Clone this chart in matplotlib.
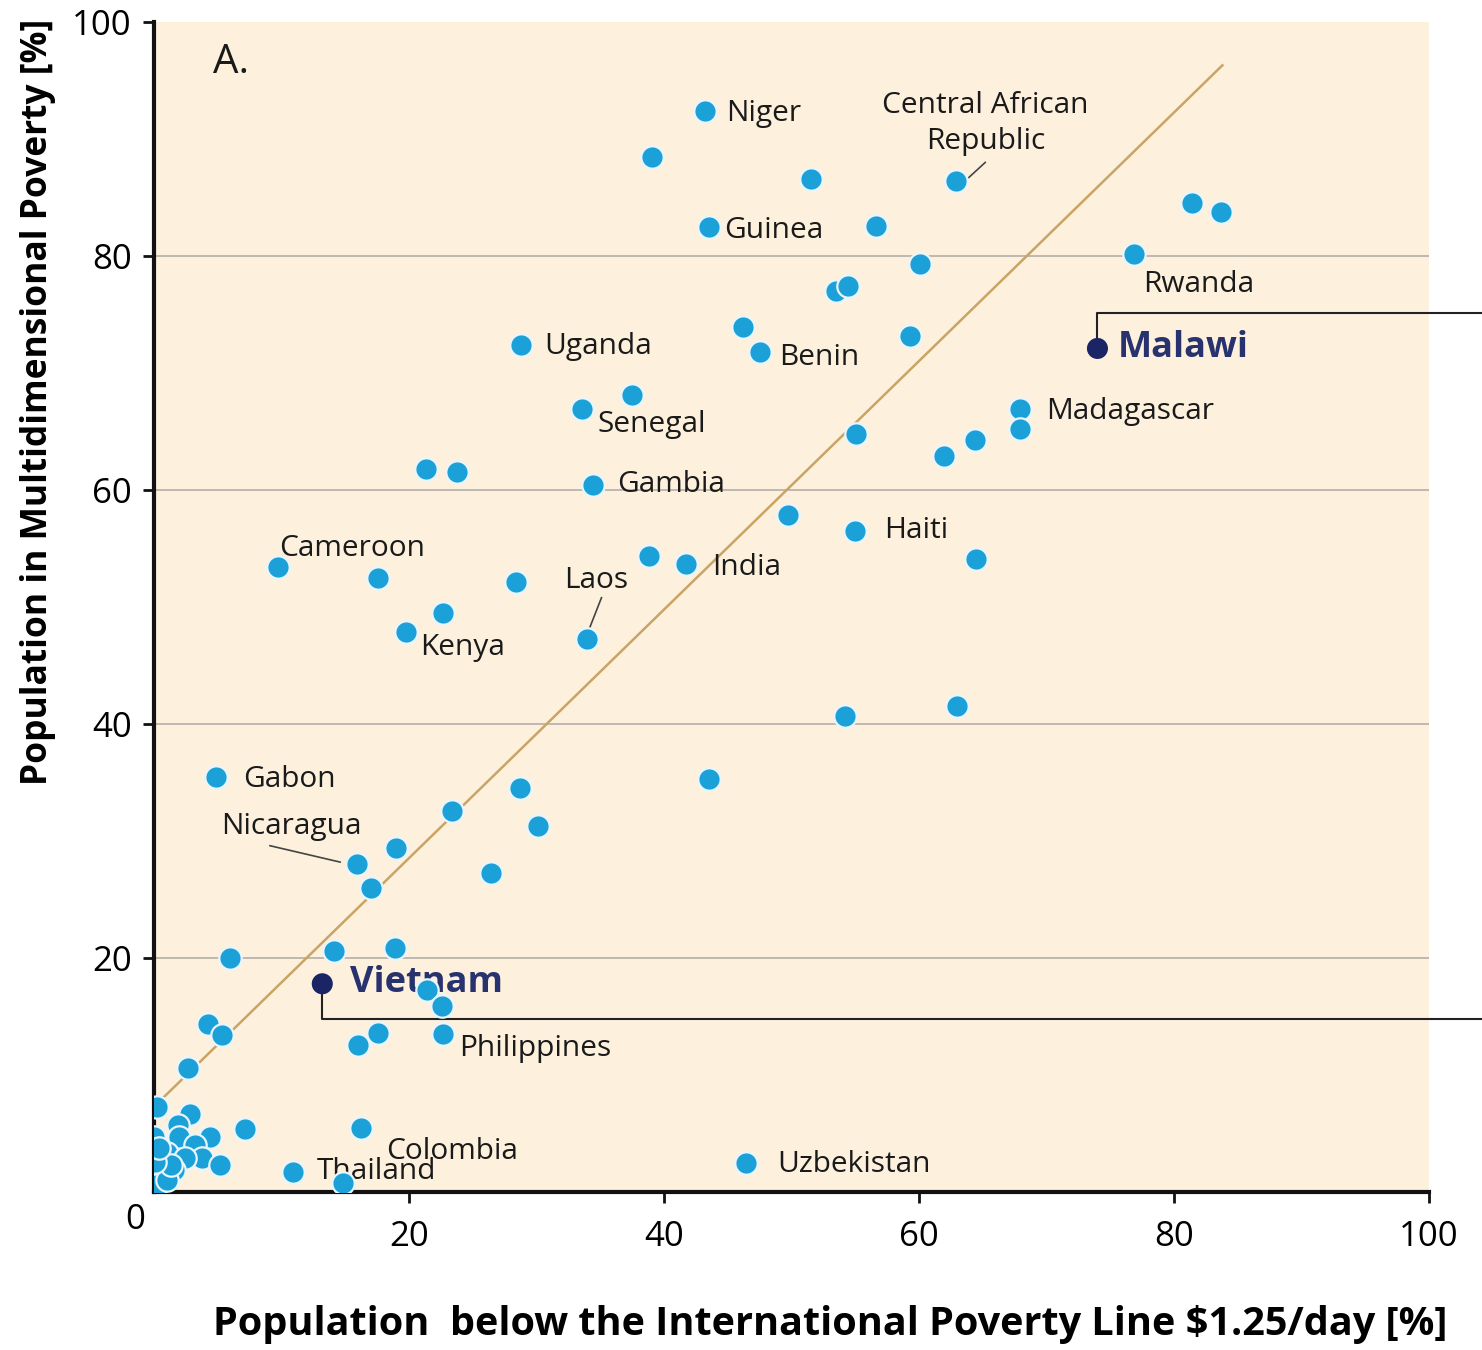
import matplotlib
matplotlib.use("Agg")
import matplotlib.pyplot as plt
import numpy as np

plt.rcParams['font.family'] = ['Open Sans', 'DejaVu Sans']

# ---- data ----
x_vals = [43.2, 39.1, 51.5, 62.9, 43.5, 56.6, 60.1, 53.5, 54.4, 81.4, 83.7, 76.9,
          46.2, 47.5, 59.3, 28.8, 37.5, 33.6, 67.9, 67.9, 64.4, 62.0, 55.1, 21.3,
          23.8, 34.4, 49.7, 55.0, 64.5, 38.8, 41.7, 9.7, 17.6, 28.4, 22.7, 19.8,
          34.0, 54.2, 63.0, 4.9, 43.5, 28.7, 23.4, 30.1, 19.0, 15.9, 17.0, 26.4,
          14.1, 18.9, 6.0, 21.4, 22.6, 22.7, 17.6, 16.0, 4.2, 5.3, 2.7, 7.1, 16.2,
          10.9, 14.8, 46.4,
          0.2, 2.8, 1.9, 4.4, 0.0, 2.0, 3.2, 1.0, 3.8, 5.2, 2.4, 1.6, 0.6, 0.2,
          1.0, 1.3, 0.1, 0.4]
y_vals = [92.4, 88.5, 86.6, 86.4, 82.5, 82.6, 79.3, 77.0, 77.4, 84.5, 83.8, 80.2,
          73.9, 71.8, 73.2, 72.4, 68.1, 66.9, 66.9, 65.2, 64.3, 62.9, 64.8, 61.8,
          61.5, 60.4, 57.9, 56.5, 54.1, 54.4, 53.7, 53.4, 52.5, 52.1, 49.5, 47.9,
          47.3, 40.7, 41.5, 35.5, 35.3, 34.5, 32.6, 31.3, 29.4, 28.0, 26.0, 27.3,
          20.6, 20.9, 20.0, 17.3, 15.9, 13.5, 13.6, 12.6, 14.4, 13.4, 10.6, 5.4, 5.5,
          1.7, 0.8, 2.5,
          7.3, 6.7, 5.7, 4.7, 4.7, 4.7, 4.0, 3.3, 2.9, 2.3, 2.9, 1.9, 1.6, 0.6,
          1.0, 2.3, 2.6, 3.8]

highlight_names = ["Malawi", "Vietnam"]
highlight_x = [74.0, 13.2]
highlight_y = [72.1, 17.8]
highlight_line_y = [75.1, 14.8]

label_names = ["Niger", "Central African\nRepublic", "Guinea", "Rwanda", "Benin",
               "Uganda", "Senegal", "Madagascar", "Gambia", "Haiti", "India",
               "Cameroon", "Laos", "Kenya", "Gabon", "Nicaragua", "Philippines",
               "Colombia", "Thailand", "Uzbekistan"]
label_x = [44.9, 65.2, 44.7, 77.6, 49.0, 30.6, 34.8, 70.0, 36.3, 57.3, 43.8,
           9.8, 32.2, 20.9, 7.0, 5.3, 23.9, 18.2, 12.8, 48.9]
label_y = [92.5, 91.6, 82.5, 77.9, 71.6, 72.6, 65.9, 67.0, 60.8, 56.8, 53.7,
           55.3, 52.6, 46.8, 35.6, 31.5, 12.6, 3.8, 2.05, 2.65]
label_ha = ["left", "center", "left", "left", "left", "left", "left", "left",
            "left", "left", "left", "left", "left", "left", "left", "left", "left",
            "left", "left", "left"]

# leader lines (start point, end point)
leader_x0 = [63.9, 34.2, 14.6]
leader_y0 = [86.7, 48.3, 28.2]
leader_x1 = [65.2, 35.1, 9.1]
leader_y1 = [88.0, 50.8, 29.6]

fit_x = [0.1, 83.8]
fit_y = [7.4, 96.3]

x_ticks = [20, 40, 60, 80, 100]
y_ticks = [20, 40, 60, 80, 100]

# ---- figure ----
fig = plt.figure(figsize=(14.82, 13.5), dpi=100)
ax = fig.add_axes([0.1039, 0.1170, 0.8603, 0.8667])
ax.set_xlim(0, 100)
ax.set_ylim(0, 100)
ax.set_facecolor('#fdf1de')

for yv in [20, 40, 60, 80]:
    ax.axhline(yv, color='#b9b4ad', lw=1.3, zorder=1)

ax.plot(fit_x, fit_y, color='#c9a464', lw=1.8, zorder=2)

ax.scatter(x_vals, y_vals, s=260, color='#1ca0d8', edgecolors='#e8f6fc',
           linewidths=1.6, zorder=5)
ax.scatter(highlight_x, highlight_y, s=230, color='#1b2566', edgecolors='none',
           zorder=6)

for name, lx, ly, ha in zip(label_names, label_x, label_y, label_ha):
    ax.text(lx, ly - 0.3, name, ha=ha, va='center', fontsize=21.5, color='#1a1a1a',
            zorder=4, linespacing=1.3)

for x0, y0, x1, y1 in zip(leader_x0, leader_y0, leader_x1, leader_y1):
    ax.plot([x0, x1], [y0, y1], color='#444444', lw=1.2, zorder=3)

# highlighted labels and connector lines
ax.text(75.6, 72.1, "Malawi", ha='left', va='center', fontsize=26,
        fontweight='bold', color='#27326e', zorder=4)
ax.text(15.4, 17.9, "Vietnam", ha='left', va='center', fontsize=26,
        fontweight='bold', color='#27326e', zorder=4)
for hx, hy, ly in zip(highlight_x, highlight_y, highlight_line_y):
    ax.plot([hx, hx, 105], [hy, ly, ly], color='#222222', lw=1.5,
            zorder=3, clip_on=False)

ax.text(4.6, 96.5, "A.", fontsize=29, color='#1a1a1a', va='center', ha='left')

# spines
for s in ['top', 'right']:
    ax.spines[s].set_visible(False)
for s in ['left', 'bottom']:
    ax.spines[s].set_linewidth(3)
    ax.spines[s].set_color('#111111')

ax.set_xticks(x_ticks)
ax.set_yticks(y_ticks)
ax.tick_params(axis='both', length=8, width=2, labelsize=25, color='#111111',
               direction='out')
ax.tick_params(axis='x', pad=12)
ax.tick_params(axis='y', pad=8)
fig.text(135 / 1482, 1 - 1220 / 1350, "0", fontsize=25, ha='center', va='center')

fig.text(830 / 1482, 1 - 1325 / 1350,
         "Population  below the International Poverty Line $1.25/day [%]",
         fontsize=28.5, fontweight='bold', ha='center', va='center')
fig.text(38 / 1482, 1 - 402 / 1350, "Population in Multidimensional Poverty [%]",
         fontsize=25.5, fontweight='bold', ha='center', va='center', rotation=90)

fig.savefig("out.png", dpi=100)
